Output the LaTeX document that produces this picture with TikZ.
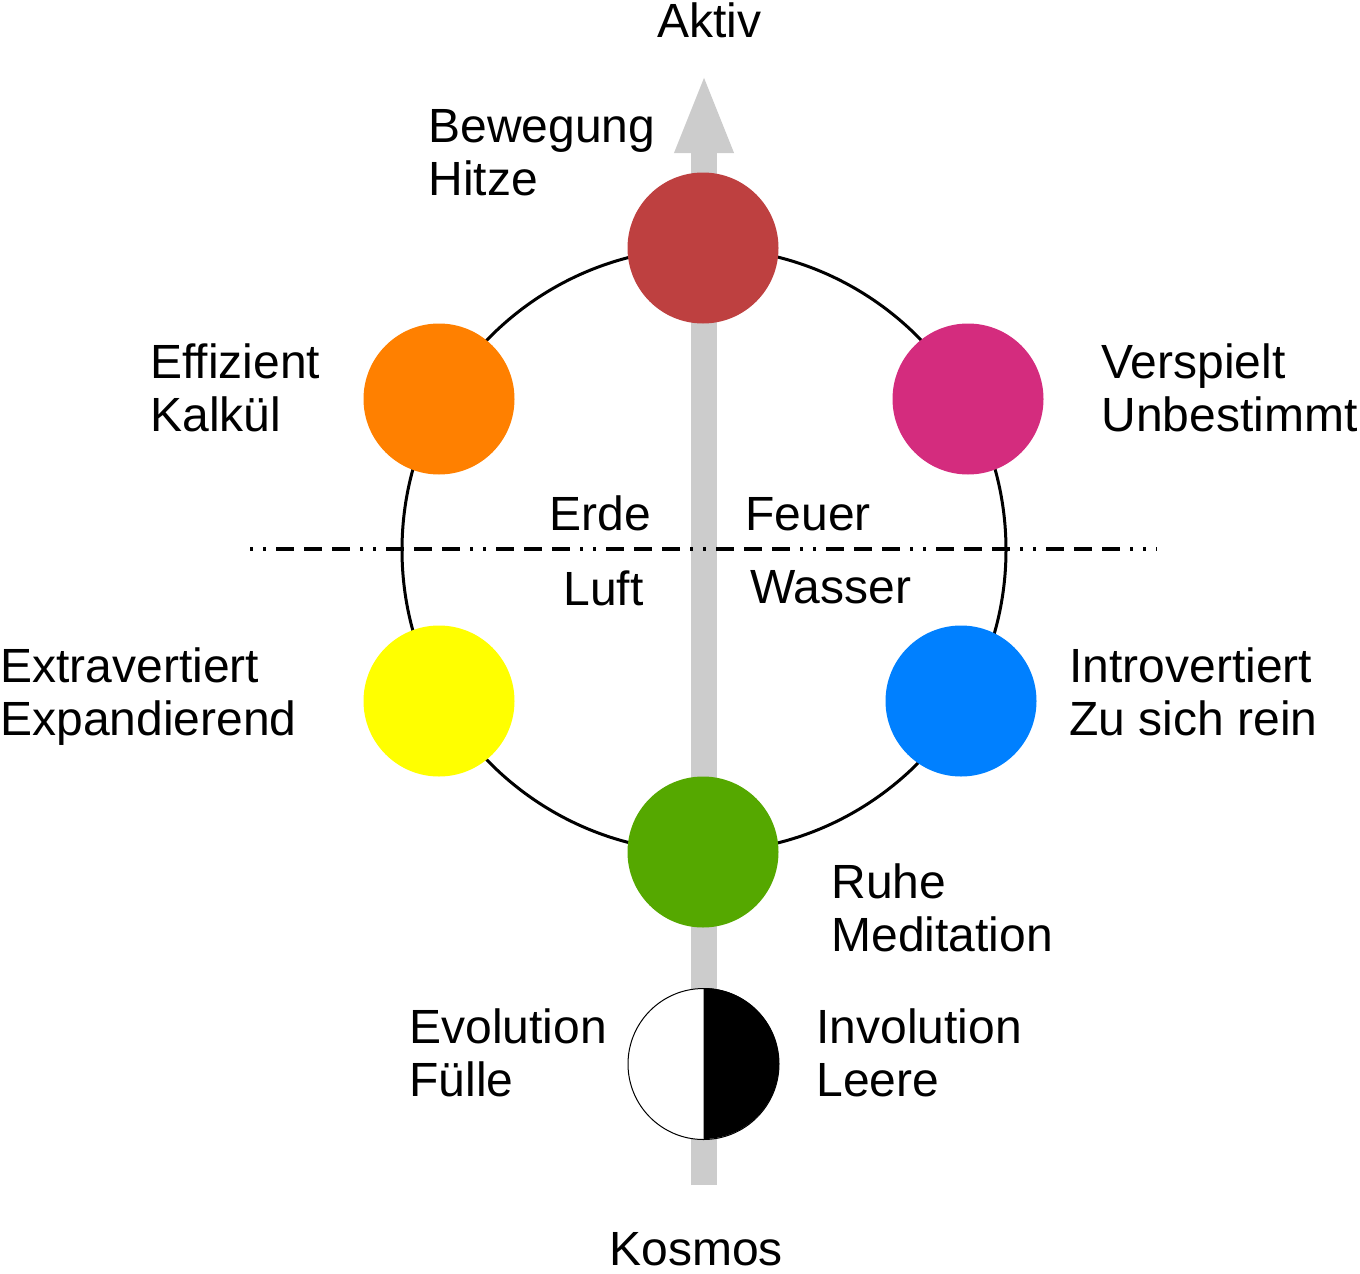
\documentclass[tikz,border=0pt]{standalone}
\usepackage{fontspec}
\setmainfont{Liberation Sans}
\usepackage{tikz}
\usetikzlibrary{arrows.meta}
\definecolor{dotred}{RGB}{190,64,64}
\definecolor{dotorange}{RGB}{255,128,0}
\definecolor{dotmagenta}{RGB}{212,44,126}
\definecolor{dotyellow}{RGB}{255,255,0}
\definecolor{dotblue}{RGB}{0,128,255}
\definecolor{dotgreen}{RGB}{85,168,0}
\definecolor{axisgray}{RGB}{204,204,204}

\begin{document}
\begin{tikzpicture}[x=0.5pt,y=-0.5pt,
  every node/.style={inner sep=0pt, font=\fontsize{24pt}{26.5pt}\selectfont},
  dot/.style={circle, minimum size=75.5pt},
  label/.style={anchor=north west, align=left},
  word/.style={anchor=base west}]
\useasboundingbox (0,0) rectangle (1360,1274);

% Axis
\coordinate (axisbottom) at (704,1185);
\coordinate (axistop) at (704,73);
\draw[axisgray, line width=13pt, -{Triangle[width=26.5pt,length=40pt]}] (axisbottom) -- (axistop);

% Ring and split line
\coordinate (mitte) at (704,550);
\draw[line width=1.5pt] (mitte) circle[radius=302];
\coordinate (splitleft) at (250,549);
\coordinate (splitright) at (1157,549);
\draw[line width=1.6pt, dash pattern=on 1.5pt off 5pt on 1.5pt off 5pt on 9pt off 5pt on 9pt off 5pt on 9pt off 5pt] (splitleft) -- (splitright);

% Elements
\node[dot, fill=dotred] (dotred) at (703,248) {};
\node[dot, fill=dotorange] (dotorange) at (439,399) {};
\node[dot, fill=dotmagenta] (dotmagenta) at (968,399) {};
\node[dot, fill=dotyellow] (dotyellow) at (439,701) {};
\node[dot, fill=dotblue] (dotblue) at (961,701) {};
\node[dot, fill=dotgreen] (dotgreen) at (703,852) {};

% Evolution / Involution
\node[dot, draw, line width=0.5pt, fill=white] (moon) at (703.5,1064) {};
\fill (moon.north) arc[start angle=-90, end angle=90, radius=75.5] -- cycle;

% Labels
\node[word] (aktiv) at (657,38) {Aktiv};
\node[word] (kosmos) at (609,1265) {Kosmos};
\node[label] (lbewegung) at (428,109) {Bewegung\\Hitze};
\node[label] (leffizient) at (150,343) {Effizient\\Kalkül};
\node[label] (lverspielt) at (1101,343) {Verspielt\\Unbestimmt};
\node[label] (lextra) at (0,647) {Extravertiert\\Expandierend};
\node[label] (lintro) at (1069,647) {Introvertiert\\Zu sich rein};
\node[label] (lruhe) at (831,863) {Ruhe\\Meditation};
\node[label] (levolution) at (409,1008) {Evolution\\Fülle};
\node[label] (linvolution) at (816,1008) {Involution\\Leere};
\node[word] (erde) at (549,530) {Erde};
\node[word] (feuer) at (745,530) {Feuer};
\node[word] (luft) at (563,605) {Luft};
\node[word] (wasser) at (750,603) {Wasser};
\end{tikzpicture}
\end{document}
